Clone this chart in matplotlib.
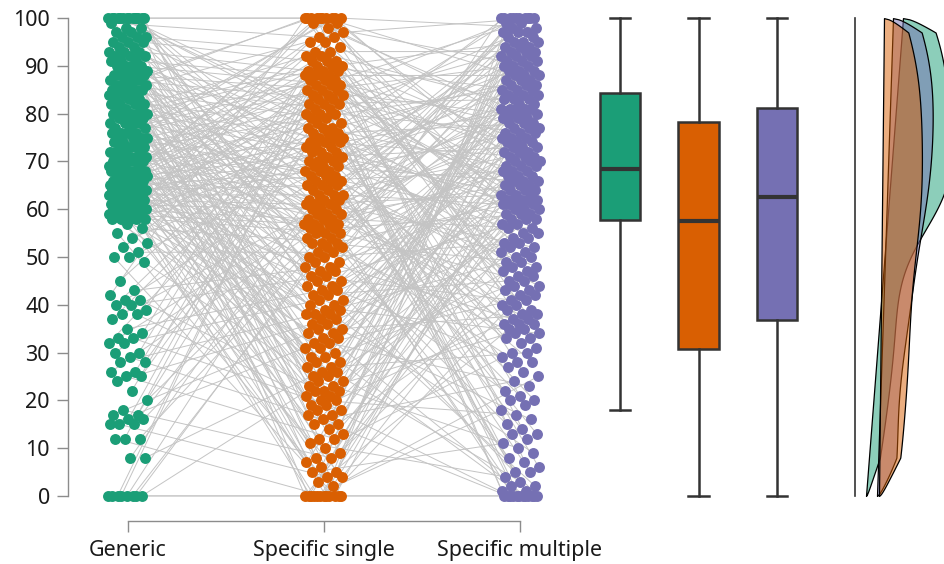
import numpy as np
import matplotlib.pyplot as plt
from matplotlib.colors import to_rgba

plt.rcParams['font.family'] = ['Noto Sans', 'DejaVu Sans']

conditions = ['Generic', 'Specific single', 'Specific multiple']
colors = ['#1B9E77', '#D95F02', '#7570B3']

# scores per participant (sorted)
generic = [
    0, 0, 0, 0, 0, 0, 0, 0, 8, 8, 12, 12, 12, 15, 15, 15, 16, 16, 17, 17,
    18, 20, 22, 24, 25, 25, 26, 26, 28, 28, 29, 30, 30, 32, 32, 33, 33, 34, 35, 37,
    38, 38, 39, 40, 40, 41, 41, 42, 43, 45, 49, 50, 50, 51, 52, 53, 54, 55, 56, 57,
    58, 58, 58, 58, 58, 59, 59, 59, 59, 59, 59, 60, 60, 60, 60, 60, 60, 61, 61, 61,
    61, 61, 62, 62, 62, 62, 62, 62, 63, 63, 63, 63, 63, 64, 64, 64, 64, 64, 64, 65,
    65, 65, 65, 65, 65, 66, 66, 66, 66, 66, 67, 67, 67, 67, 67, 68, 68, 68, 68, 68,
    69, 69, 69, 69, 70, 70, 70, 70, 70, 71, 71, 71, 71, 72, 72, 72, 72, 73, 73, 73,
    73, 74, 74, 74, 75, 75, 75, 75, 76, 76, 76, 76, 77, 77, 77, 78, 78, 78, 78, 79,
    79, 79, 80, 80, 80, 80, 80, 81, 81, 81, 82, 82, 82, 82, 83, 83, 83, 84, 84, 84,
    85, 85, 85, 85, 85, 86, 86, 86, 86, 87, 87, 87, 87, 88, 88, 88, 88, 89, 89, 89,
    90, 90, 90, 90, 91, 91, 91, 92, 92, 92, 93, 93, 93, 94, 94, 95, 95, 95, 96, 96,
    96, 97, 97, 98, 98, 99, 100, 100, 100, 100, 100, 100, 100, 100, 100, 100, 100, 100, 100, 100,
]
specific_single = [
    0, 0, 0, 0, 0, 0, 0, 0, 0, 0, 0, 0, 2, 3, 4, 4, 5, 5, 6, 7,
    8, 8, 9, 10, 11, 12, 12, 13, 14, 15, 15, 16, 17, 17, 18, 18, 19, 19, 20, 20,
    21, 21, 22, 22, 22, 23, 23, 24, 24, 25, 25, 26, 26, 27, 27, 28, 28, 29, 29, 30,
    31, 31, 32, 32, 33, 33, 34, 34, 35, 35, 36, 36, 37, 37, 38, 38, 38, 39, 39, 40,
    40, 41, 41, 42, 42, 43, 43, 44, 44, 45, 45, 46, 46, 47, 47, 48, 48, 49, 49, 50,
    50, 51, 51, 52, 52, 53, 53, 53, 54, 54, 55, 55, 55, 56, 56, 56, 57, 57, 57, 57,
    58, 58, 58, 59, 59, 59, 60, 60, 60, 61, 61, 61, 62, 62, 62, 63, 63, 63, 64, 64,
    65, 65, 65, 66, 66, 66, 67, 67, 67, 68, 68, 68, 69, 69, 69, 70, 70, 70, 71, 71,
    72, 72, 72, 73, 73, 73, 74, 74, 74, 75, 75, 75, 76, 76, 76, 77, 77, 77, 78, 78,
    79, 79, 80, 80, 80, 81, 81, 82, 82, 82, 83, 83, 84, 84, 84, 85, 85, 85, 86, 86,
    86, 87, 87, 87, 88, 88, 88, 88, 89, 89, 89, 90, 90, 90, 91, 91, 91, 92, 92, 93,
    93, 94, 95, 95, 96, 96, 97, 98, 99, 99, 100, 100, 100, 100, 100, 100, 100, 100, 100, 100,
]
specific_multiple = [
    0, 0, 0, 0, 0, 0, 0, 0, 0, 0, 0, 0, 1, 1, 2, 2, 3, 4, 5, 5,
    6, 7, 8, 9, 10, 11, 12, 13, 13, 14, 15, 16, 17, 18, 19, 20, 20, 21, 22, 23,
    24, 25, 26, 27, 28, 28, 29, 30, 30, 31, 32, 33, 33, 34, 34, 35, 35, 36, 36, 36,
    37, 37, 38, 38, 39, 39, 40, 40, 41, 41, 42, 42, 43, 43, 44, 44, 45, 45, 46, 46,
    47, 47, 48, 48, 49, 49, 50, 50, 51, 51, 52, 52, 53, 53, 54, 54, 55, 55, 56, 56,
    57, 57, 58, 58, 58, 59, 59, 59, 60, 60, 60, 61, 61, 61, 61, 62, 62, 62, 62, 62,
    63, 63, 63, 64, 64, 64, 65, 65, 65, 66, 66, 66, 67, 67, 67, 68, 68, 68, 69, 69,
    69, 70, 70, 70, 71, 71, 71, 72, 72, 72, 73, 73, 73, 74, 74, 74, 75, 75, 75, 76,
    76, 76, 77, 77, 77, 78, 78, 78, 79, 79, 79, 80, 80, 80, 80, 81, 81, 81, 81, 81,
    82, 82, 83, 83, 83, 84, 84, 84, 85, 85, 85, 86, 86, 86, 87, 87, 87, 88, 88, 88,
    89, 89, 89, 90, 90, 90, 91, 91, 91, 92, 92, 92, 93, 93, 93, 94, 94, 94, 95, 95,
    95, 96, 96, 97, 97, 97, 98, 98, 99, 99, 100, 100, 100, 100, 100, 100, 100, 100, 100, 100,
]

groups = [np.array(generic), np.array(specific_single), np.array(specific_multiple)]
n = len(generic)
idx = np.arange(n)
# which entry of each column belongs to participant i
pairing = [idx, (idx * 97) % n, (idx * 113 + 41) % n]

# small horizontal jitter so the dots don't stack
jitters = [((idx * 0.618034 + k * 0.31) % 1 - 0.5) * 0.2 for k in range(3)]

fig = plt.figure(figsize=(9.45, 5.64), dpi=100)
bottom, height = 1 - 505 / 564, 495 / 564
ylim = (-1.9, 101.7)

# --- paired dots ---
ax = fig.add_axes([68 / 945, bottom, 512 / 945, height])
xs = np.array([k + 1 + jitters[k][pairing[k]] for k in range(3)])
ys = np.array([groups[k][pairing[k]] for k in range(3)])
ax.plot(xs, ys, color='#C4C4C4', lw=0.7, zorder=1)
for k in range(3):
    ax.scatter(k + 1 + jitters[k], groups[k], s=62, color=colors[k],
               linewidths=0, zorder=3)

ax.set_xlim(1 - 60 / 196, 3 + 60 / 196)
ax.set_ylim(*ylim)
ax.set_yticks(range(0, 101, 10))
ax.set_xticks([1, 2, 3])
ax.set_xticklabels(conditions)
for side in ['top', 'right']:
    ax.spines[side].set_visible(False)
ax.spines['left'].set_bounds(0, 100)
ax.spines['bottom'].set_bounds(1, 3)
ax.spines['bottom'].set_position(('outward', 11.5))
for side in ['left', 'bottom']:
    ax.spines[side].set_color('#8C8C8C')
    ax.spines[side].set_linewidth(1.0)
ax.tick_params(length=8, width=1.0, color='#8C8C8C', labelsize=15.5,
               labelcolor='#1A1A1A')
ax.tick_params(axis='y', pad=5)
ax.tick_params(axis='x', pad=6)

# --- boxplots ---
ax2 = fig.add_axes([585 / 945, bottom, 230 / 945, height])
bp = ax2.boxplot(groups, positions=[1, 2, 3], widths=0.51, patch_artist=True,
                 showfliers=False, capwidths=0.26,
                 boxprops=dict(linewidth=1.8, edgecolor='#333333'),
                 whiskerprops=dict(linewidth=1.8, color='#333333'),
                 capprops=dict(linewidth=1.8, color='#333333'),
                 medianprops=dict(linewidth=3.0, color='#333333'))
for patch, c in zip(bp['boxes'], colors):
    patch.set_facecolor(c)
ax2.set_xlim(1 - 35 / 78.5, 3 + 38 / 78.5)
ax2.set_ylim(*ylim)
ax2.axis('off')

# --- densities ---
ax3 = fig.add_axes([830 / 945, bottom, 115 / 945, height])
ax3.set_xlim(830, 945)
ax3.set_ylim(*ylim)
ax3.axis('off')
ax3.plot([855, 855], [0, 100], color='#333333', lw=1.2)

grid = np.linspace(0, 100, 400)
taper = np.clip(grid / 8, 0, 1) ** 0.7 * np.clip((100 - grid) / 3, 0, 1) ** 0.6
base0 = [866, 879, 877]
slope = [0.37, 0.05, 0.16]
for k in [0, 2, 1]:
    v = groups[k]
    bw = 1.06 * v.std() * n ** (-0.2)
    dens = np.exp(-0.5 * ((grid[:, None] - v[None, :]) / bw) ** 2).sum(1) / (n * bw * np.sqrt(2 * np.pi))
    base = base0[k] + slope[k] * grid
    ax3.fill_betweenx(grid, base, base + 3400 * dens * taper,
                      facecolor=to_rgba(colors[k], 0.5),
                      edgecolor='black', linewidth=0.9)

fig.savefig('out.png', dpi=100)
